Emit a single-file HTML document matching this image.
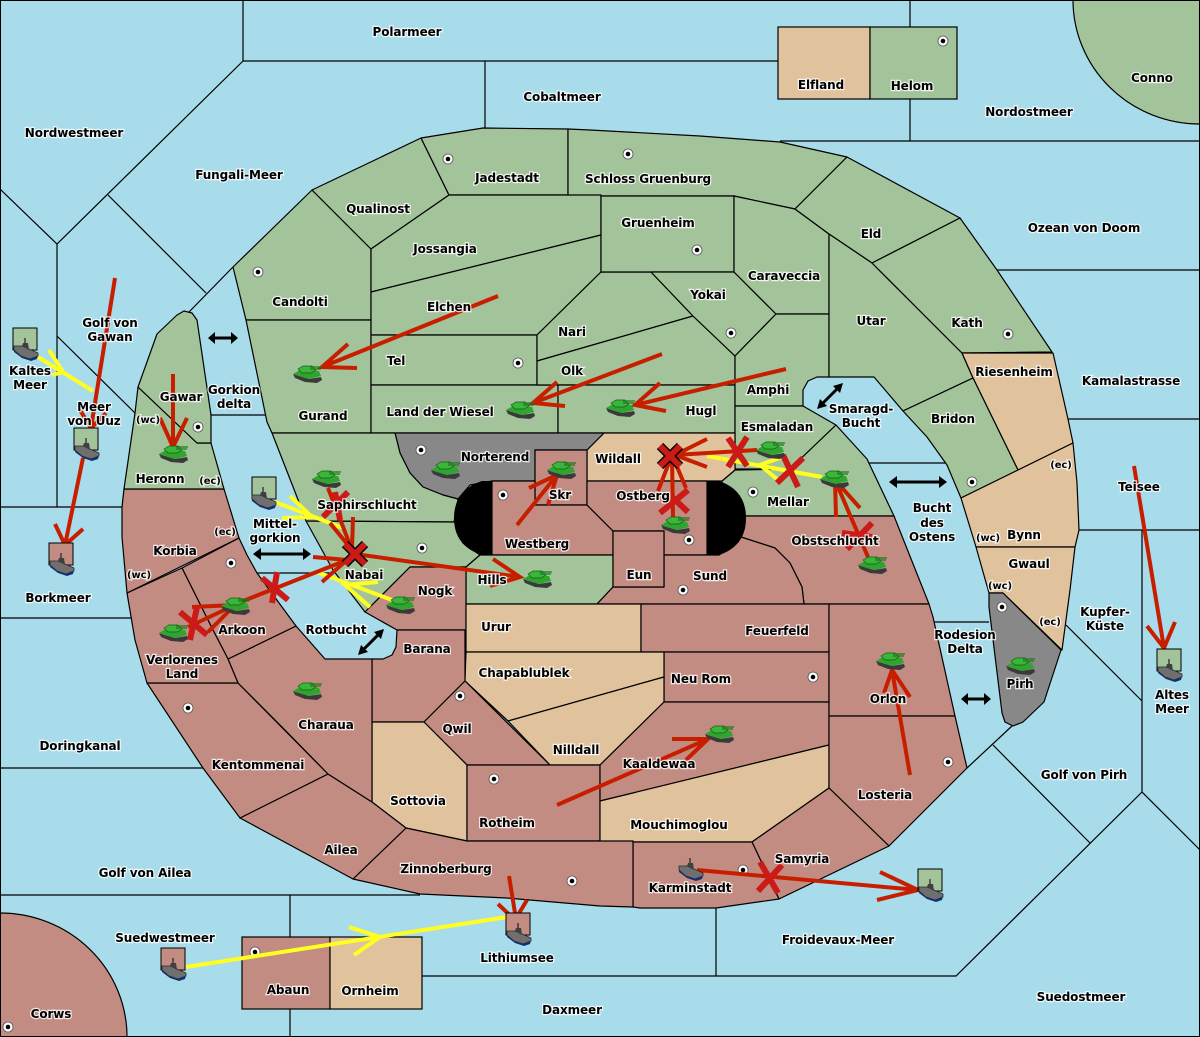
<!DOCTYPE html>
<html><head><meta charset="utf-8"><title>Map</title>
<style>
html,body{margin:0;padding:0;background:#a8dcea}
svg{display:block}
.land polygon,.land path{stroke:#000;stroke-width:1.2;stroke-linejoin:round}
.G{fill:#a3c39a}.R{fill:#c28c82}.T{fill:#e0c39c}.D{fill:#888}
.sea path{fill:none;stroke:#000;stroke-width:1.2}
.red path{fill:none;stroke:#c81e00;stroke-width:4}
.xs path{fill:none;stroke:#cc1a18;stroke-width:6}
.yel path{fill:none;stroke:#ffff22;stroke-width:4}
.lb text{font-family:"DejaVu Sans","Liberation Sans",sans-serif;font-size:12px;font-weight:bold;text-anchor:middle;fill:#000;stroke:#fff;stroke-opacity:.8;stroke-width:2.4px;paint-order:stroke;letter-spacing:-.1px}
.lb .s{font-size:10px}
</style></head><body>
<svg xmlns="http://www.w3.org/2000/svg" width="1200" height="1037" viewBox="0 0 1200 1037">
<defs>
<g id="t">
<path d="M-14 1 L-12 5 L-2 9 L10 10 L15 7 L14 4 L2 6 L-8 3 Z" fill="#3a3a3a"/>
<path d="M-14 1 L-7 -3 L12 -2 L14 3 L2 6 L-8 3 Z" fill="#2fa52f"/>
<path d="M-9 -4 L-4 -7 L5 -7 L9 -3 L4 0 L-5 0 Z" fill="#3cb53c" stroke="#0f5f0f" stroke-width=".7"/>
<path d="M3 -6 H15 M3 -4 H14" stroke="#1b7a1b" stroke-width="1.3" fill="none"/>
</g>
<g id="s">
<path d="M-11 0 L-2 3 L5 4 L13 6 L12 10 L6 12 L-3 9 L-11 3 Z" fill="#0d2f8a"/>
<path d="M-11 -3 L-3 -3 L4 0 L13 4 L13 7 L5 10 L-4 7 L-11 1 Z" fill="#6f6f6f" stroke="#2b2b2b" stroke-width=".8"/>
<path d="M-3 -3 L-2 -6 L3 -6 L4 1 Z" fill="#3f3f3f"/>
<path d="M0 -6 V-11" stroke="#222" stroke-width="1.2"/>
</g>
<g id="c"><circle r="5" fill="#fff" stroke="#555" stroke-width=".8"/><circle r="2.3" fill="#000"/></g>
</defs>
<rect width="1200" height="1037" fill="#a8dcea"/>
<g class="sea">
<path d="M243 0V61H778M485 61V128M243 61L57 244L0 189M57 244V507M0 507H122M108 195L206 293M233 267L189 312M57 336L135 413M0 618H132M0 768H203M0 895H420M290 895V1037M910 0V141M780 141H1200M997 270H1200M1068 419H1200M1079 530H1200M1142 530V792L956 976H422M1142 792L1200 850M716 908V976M967 768L1012 726M993 745L1090 843M1066 625L1142 701M211 415H266M257 573H333M868 463H945M933 622H989"/>
</g>
<g class="land">
<path class="G" d="M1073 0 A127 124 0 0 0 1200 124 V0Z"/>
<path class="R" d="M0 913 A127 124 0 0 1 127 1037 H0Z"/>
<rect x="778" y="27" width="92" height="72" class="T" stroke="#000" stroke-width="1.2"/>
<rect x="870" y="27" width="87" height="72" class="G" stroke="#000" stroke-width="1.2"/>
<rect x="242" y="937" width="88" height="72" class="R" stroke="#000" stroke-width="1.2"/>
<rect x="330" y="937" width="92" height="72" class="T" stroke="#000" stroke-width="1.2"/>
<polygon class="G" points="233,267 312,190 371,249 371,320 246,320"/>
<polygon class="G" points="246,320 371,320 371,433 272,433 267,422"/>
<polygon class="G" points="312,190 421,138 449,195 371,249"/>
<polygon class="G" points="421,138 483,128 568,129 568,195 449,195"/>
<polygon class="G" points="568,129 590,130 700,136 780,142 847,157 795,209 734,196 568,196"/>
<polygon class="G" points="371,249 449,195 601,195 601,235 371,292"/>
<polygon class="G" points="371,292 601,235 601,272 537,335 371,335"/>
<polygon class="G" points="371,335 537,335 537,385 371,385"/>
<polygon class="G" points="371,385 558,385 558,433 371,433"/>
<polygon class="G" points="601,272 651,272 693,316 537,361 537,335"/>
<polygon class="G" points="537,361 693,316 735,356 735,385 537,385"/>
<polygon class="G" points="558,385 735,385 735,433 558,433"/>
<polygon class="G" points="601,196 734,196 734,272 601,272"/>
<polygon class="G" points="651,272 734,272 776,314 735,356 693,316"/>
<polygon class="G" points="734,196 795,209 829,234 829,314 776,314 734,272"/>
<polygon class="G" points="776,314 829,314 829,377 817,377 808,381 803,390 803,406 735,406 735,356"/>
<polygon class="G" points="795,209 847,157 960,218 872,263 829,234"/>
<polygon class="G" points="829,234 872,263 917,308 962,353 973,378 903,411 874,377 829,377"/>
<polygon class="G" points="872,263 960,218 997,270 1052,352 962,353 917,308"/>
<polygon class="T" points="962,353 1053,353 1068,419 1073,443 1018,470 973,378"/>
<polygon class="G" points="903,411 973,378 1018,470 961,498 947,465 927,437"/>
<polygon class="T" points="961,498 1073,443 1077,483 1079,530 1075,547 976,547"/>
<polygon class="T" points="976,547 1075,547 1070,590 1062,650 1003,593 989,593"/>
<polygon class="D" points="989,593 1003,593 1061,650 1044,702 1023,722 1013,726 1005,722 1002,713 989,607"/>
<polygon class="G" points="735,406 803,406 836,425 790,469 735,469"/>
<polygon class="G" points="722,481 735,470 790,469 836,425 867,459 894,516 720,516"/>
<polygon class="T" points="604,433 735,433 735,470 722,481 587,481 587,450"/>
<polygon class="D" points="395,433 604,433 587,450 535,450 535,481 492,481 470,485 458,499 443,495 423,487 410,473 400,453"/>
<polygon class="G" points="272,433 395,433 400,453 410,473 423,487 443,495 458,499 454,522 306,521 297,497"/>
<polygon class="G" points="306,521 455,522 463,543 480,555 466,567 410,567 365,612 333,570"/>
<polygon class="R" points="535,450 587,450 587,505 535,505"/>
<polygon class="R" points="492,481 535,481 535,505 587,505 613,531 613,555 492,555"/>
<polygon class="R" points="587,481 707,481 707,555 664,555 664,531 613,531 587,505"/>
<polygon class="G" points="480,555 613,555 613,587 597,604 466,604 466,567"/>
<polygon class="R" points="720,516 894,516 929,604 804,604 802,587 790,563 775,548 741,537 720,530"/>
<polygon class="R" points="597,604 613,587 664,587 664,555 719,555 738,542 741,537 775,548 790,563 802,587 804,604"/>
<polygon class="R" points="613,531 664,531 664,587 613,587"/>
<polygon class="R" points="410,567 466,567 466,630 397,630 365,612"/>
<polygon class="R" points="397,630 465,630 465,681 424,722 372,722 372,659 383,659 392,655 396,647"/>
<polygon class="T" points="466,604 641,604 641,652 466,652"/>
<polygon class="R" points="641,604 829,604 829,652 641,652"/>
<polygon class="R" points="664,652 829,652 829,702 664,702"/>
<polygon class="T" points="466,652 664,652 664,677 508,721 465,681"/>
<polygon class="T" points="508,721 664,677 664,702 600,765 550,765"/>
<polygon class="R" points="465,681 550,765 467,765 424,722"/>
<polygon class="T" points="372,722 424,722 467,765 467,841 406,828 372,802"/>
<polygon class="R" points="467,765 600,765 600,841 467,841"/>
<polygon class="R" points="664,702 829,702 829,745 600,801 600,765"/>
<polygon class="T" points="600,801 829,745 829,788 752,842 600,842"/>
<polygon class="R" points="829,604 929,604 933,617 955,716 829,716"/>
<polygon class="R" points="829,716 955,716 967,768 950,785 889,846 829,788"/>
<polygon class="R" points="752,842 829,788 889,846 779,899"/>
<polygon class="R" points="633,842 752,842 779,899 716,908 640,908 633,907"/>
<polygon class="R" points="406,828 467,841 633,841 633,907 600,906 507,898 420,894 353,879"/>
<polygon class="R" points="328,774 372,802 406,828 353,879 240,818"/>
<polygon class="R" points="147,683 238,683 328,774 240,818 203,768"/>
<polygon class="R" points="228,659 296,626 325,659 372,659 372,802 328,774 283,728 238,683"/>
<polygon class="R" points="182,568 239,538 247,555 257,573 296,626 228,659 213,630"/>
<polygon class="R" points="127,593 182,568 213,630 228,659 238,683 147,683 135,640"/>
<polygon class="R" points="124,489 224,489 239,538 127,593 122,537 122,507"/>
<polygon class="G" points="124,489 135,413 138,387 197,443 211,443 224,489"/>
<polygon class="G" points="138,387 157,334 177,315 184,311 192,313 197,320 211,415 211,443 197,443"/>
</g>
<path d="M492 481H482Q454 490 454 518Q454 546 482 555H492Z" fill="#000"/>
<path d="M707 481H719Q746 490 746 518Q746 546 719 555H707Z" fill="#000"/>
<use href="#c" x="448" y="159"/><use href="#c" x="628" y="154"/><use href="#c" x="943" y="41"/><use href="#c" x="697" y="250"/><use href="#c" x="258" y="272"/><use href="#c" x="518" y="363"/><use href="#c" x="731" y="333"/><use href="#c" x="1008" y="334"/><use href="#c" x="198" y="427"/><use href="#c" x="421" y="450"/><use href="#c" x="503" y="495"/><use href="#c" x="753" y="492"/><use href="#c" x="972" y="482"/><use href="#c" x="1002" y="607"/><use href="#c" x="422" y="548"/><use href="#c" x="689" y="540"/><use href="#c" x="683" y="590"/><use href="#c" x="813" y="677"/><use href="#c" x="460" y="696"/><use href="#c" x="188" y="708"/><use href="#c" x="494" y="779"/><use href="#c" x="948" y="762"/><use href="#c" x="743" y="870"/><use href="#c" x="572" y="881"/><use href="#c" x="255" y="952"/><use href="#c" x="8" y="1027"/><use href="#c" x="231" y="563"/>
<g fill="none" stroke="#000" stroke-width="3">
<path d="M212 338H235"/><path d="M258 554H308"/><path d="M894 482H942"/><path d="M965 699H987"/><path d="M821 405L839 387"/><path d="M362 651L380 633"/>
</g>
<g fill="#000">
<path d="M208 338l7-6v12zM238 338l-7-6v12zM253 554l8-6v12zM311 554l-8-6v12zM889 482l8-6v12zM947 482l-8-6v12zM961 699l7-6v12zM991 699l-7-6v12zM817 409l3-10 7 7zM843 383l-3 10-7-7zM358 655l3-10 7 7zM384 629l-3 10-7-7z"/>
</g>
<g class="yel">
<path d="M38 357L93 391M49 350L63 372L52 375"/>
<path d="M275 502L343 528M290 496L312 517L282 518"/>
<path d="M392 600L317 572M378 582L345 585L370 607"/>
<path d="M822 477L707 456M782 457L760 465L778 480"/>
<path d="M186 967L507 917M349 927L380 937L354 955"/>
</g>
<g class="red">
<path d="M498 296L322 367M348 344L322 367L357 368"/>
<path d="M662 354L533 403M557 382L533 403L565 406"/>
<path d="M786 369L635 405M660 383L635 405L666 411"/>
<path d="M173 374V447M160 418L173 447L187 418"/>
<path d="M115 278L91 428M80 410L91 428L106 413"/>
<path d="M83 458L65 545M55 524L65 545L83 529"/>
<path d="M328 488L352 550M330 523L352 550L353 517"/>
<path d="M233 605L347 560M313 557L347 560L322 582"/>
<path d="M355 554L520 577M493 559L520 577L490 586"/>
<path d="M188 627L235 605M192 607L235 605L208 632"/>
<path d="M517 525L557 475M529 488L557 475L548 505"/>
<path d="M673 517L672 455M658 491L672 455L686 488"/>
<path d="M757 450L675 455M707 439L675 455L707 467"/>
<path d="M868 557L835 480M836 517L835 480L860 508"/>
<path d="M910 775L892 670M884 693L892 670L910 697"/>
<path d="M557 805L708 739M672 739L708 739L686 760"/>
<path d="M697 870L918 890M880 872L918 890L877 900"/>
<path d="M509 876L515 913M498 904L515 920L527 900"/>
<path d="M1134 466L1164 648M1147 626L1164 648L1175 622"/>
</g>
<g class="xs">
<path d="M348 492L323 517M335 492L340 520"/>
<path d="M262 578L288 600M277 572L272 603"/>
<path d="M180 612L207 635M197 607L190 640"/>
<path d="M688 490L660 513M672 497L688 512"/>
<path d="M728 438L747 466M747 437L728 467"/>
<path d="M783 455L798 487M803 458L777 483"/>
<path d="M872 523L847 549M842 533L872 537"/>
<path d="M760 862L778 893M782 865L758 891"/>
</g>
<g fill="none" stroke="#000" stroke-width="9"><path d="M345 544L365 564M365 544L345 564"/><path d="M660 446L680 466M680 446L660 466"/></g>
<g fill="none" stroke="#cc1a18" stroke-width="6"><path d="M345 544L365 564M365 544L345 564"/><path d="M660 446L680 466M680 446L660 466"/></g>
<use href="#t" x="307" y="373"/><use href="#t" x="520" y="409"/><use href="#t" x="620" y="407"/><use href="#t" x="445" y="469"/><use href="#t" x="561" y="469"/><use href="#t" x="326" y="478"/><use href="#t" x="173" y="453"/><use href="#t" x="235" y="605"/><use href="#t" x="173" y="632"/><use href="#t" x="400" y="604"/><use href="#t" x="537" y="578"/><use href="#t" x="307" y="690"/><use href="#t" x="675" y="524"/><use href="#t" x="770" y="449"/><use href="#t" x="834" y="478"/><use href="#t" x="872" y="564"/><use href="#t" x="890" y="660"/><use href="#t" x="1020" y="665"/><use href="#t" x="719" y="733"/>
<g stroke="#000" stroke-width="1">
<rect x="13" y="328" width="24" height="22" class="G"/><rect x="74" y="428" width="24" height="22" class="G"/><rect x="49" y="543" width="24" height="22" class="R"/><rect x="252" y="477" width="24" height="22" class="G"/><rect x="1157" y="649" width="24" height="22" class="G"/><rect x="918" y="869" width="24" height="22" class="G"/><rect x="161" y="948" width="24" height="22" class="R"/><rect x="506" y="913" width="24" height="22" class="R"/>
</g>
<use href="#s" x="25" y="349"/><use href="#s" x="86" y="449"/><use href="#s" x="61" y="564"/><use href="#s" x="263" y="498"/><use href="#s" x="1169" y="670"/><use href="#s" x="930" y="890"/><use href="#s" x="173" y="969"/><use href="#s" x="518" y="934"/><use href="#s" x="690" y="869"/>
<rect x=".5" y=".5" width="1199" height="1036" fill="none" stroke="#000"/>
<g class="lb">
<text x="407" y="36">Polarmeer</text><text x="562" y="101">Cobaltmeer</text><text x="821" y="89">Elfland</text><text x="912" y="90">Helom</text><text x="1152" y="82">Conno</text><text x="1029" y="116">Nordostmeer</text><text x="74" y="137">Nordwestmeer</text><text x="239" y="179">Fungali-Meer</text><text x="507" y="182">Jadestadt</text><text x="648" y="183">Schloss Gruenburg</text><text x="378" y="213">Qualinost</text><text x="658" y="227">Gruenheim</text><text x="871" y="238">Eld</text><text x="1084" y="232">Ozean von Doom</text><text x="445" y="253">Jossangia</text><text x="784" y="280">Caraveccia</text><text x="708" y="299">Yokai</text><text x="300" y="306">Candolti</text><text x="449" y="311">Elchen</text><text x="871" y="325">Utar</text><text x="967" y="327">Kath</text><text x="110" y="327">Golf von</text><text x="110" y="341">Gawan</text><text x="572" y="336">Nari</text><text x="396" y="365">Tel</text><text x="572" y="375">Olk</text><text x="30" y="375">Kaltes</text><text x="30" y="389">Meer</text><text x="1014" y="376">Riesenheim</text><text x="1131" y="385">Kamalastrasse</text><text x="768" y="394">Amphi</text><text x="234" y="394">Gorkion</text><text x="234" y="408">delta</text><text x="181" y="401">Gawar</text><text x="323" y="420">Gurand</text><text x="440" y="416">Land der Wiesel</text><text x="701" y="415">Hugl</text><text x="861" y="413">Smaragd-</text><text x="861" y="427">Bucht</text><text x="953" y="423">Bridon</text><text x="94" y="411">Meer</text><text x="94" y="425">von Uuz</text><text class="s" x="148" y="423">(wc)</text><text x="777" y="431">Esmaladan</text><text x="495" y="461">Norterend</text><text x="618" y="463">Wildall</text><text x="160" y="483">Heronn</text><text class="s" x="210" y="484">(ec)</text><text class="s" x="1061" y="468">(ec)</text><text x="1139" y="491">Teisee</text><text x="643" y="500">Ostberg</text><text x="560" y="499">Skr</text><text x="788" y="506">Mellar</text><text x="367" y="509">Saphirschlucht</text><text x="932" y="512">Bucht</text><text x="932" y="527">des</text><text x="932" y="541">Ostens</text><text x="275" y="528">Mittel-</text><text x="275" y="542">gorkion</text><text x="1024" y="539">Bynn</text><text class="s" x="988" y="541">(wc)</text><text class="s" x="225" y="535">(ec)</text><text x="835" y="545">Obstschlucht</text><text x="537" y="548">Westberg</text><text x="175" y="555">Korbia</text><text x="1029" y="568">Gwaul</text><text x="364" y="579">Nabai</text><text x="710" y="580">Sund</text><text x="639" y="579">Eun</text><text x="492" y="584">Hills</text><text class="s" x="139" y="578">(wc)</text><text class="s" x="1000" y="589">(wc)</text><text x="435" y="595">Nogk</text><text x="58" y="602">Borkmeer</text><text x="1105" y="616">Kupfer-</text><text x="1105" y="630">Küste</text><text class="s" x="1050" y="625">(ec)</text><text x="496" y="631">Urur</text><text x="777" y="635">Feuerfeld</text><text x="336" y="634">Rotbucht</text><text x="242" y="634">Arkoon</text><text x="965" y="639">Rodesion</text><text x="965" y="653">Delta</text><text x="427" y="653">Barana</text><text x="182" y="664">Verlorenes</text><text x="182" y="678">Land</text><text x="524" y="677">Chapablublek</text><text x="701" y="683">Neu Rom</text><text x="1020" y="688">Pirh</text><text x="888" y="703">Orlon</text><text x="1172" y="699">Altes</text><text x="1172" y="713">Meer</text><text x="326" y="729">Charaua</text><text x="457" y="733">Qwil</text><text x="80" y="750">Doringkanal</text><text x="576" y="754">Nilldall</text><text x="258" y="769">Kentommenai</text><text x="659" y="768">Kaaldewaa</text><text x="1084" y="779">Golf von Pirh</text><text x="885" y="799">Losteria</text><text x="418" y="805">Sottovia</text><text x="507" y="827">Rotheim</text><text x="679" y="829">Mouchimoglou</text><text x="341" y="854">Ailea</text><text x="802" y="863">Samyria</text><text x="446" y="873">Zinnoberburg</text><text x="145" y="877">Golf von Ailea</text><text x="690" y="892">Karminstadt</text><text x="165" y="942">Suedwestmeer</text><text x="838" y="944">Froidevaux-Meer</text><text x="517" y="962">Lithiumsee</text><text x="288" y="994">Abaun</text><text x="370" y="995">Ornheim</text><text x="1081" y="1001">Suedostmeer</text><text x="572" y="1014">Daxmeer</text><text x="51" y="1018">Corws</text>
</g>
</svg>
</body></html>
